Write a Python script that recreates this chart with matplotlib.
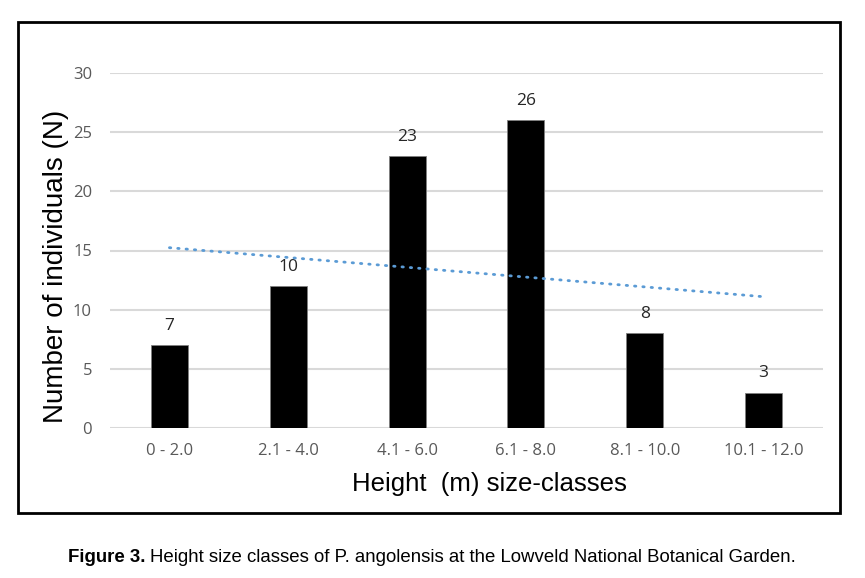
import matplotlib
matplotlib.use("Agg")
import matplotlib.pyplot as plt
import numpy as np
from matplotlib.patches import Rectangle

categories = ["0 - 2.0", "2.1 - 4.0", "4.1 - 6.0", "6.1 - 8.0", "8.1 - 10.0", "10.1 - 12.0"]
counts = [7, 12, 23, 26, 8, 3]
bar_labels = ["7", "10", "23", "26", "8", "3"]
yticks = [0, 5, 10, 15, 20, 25, 30]

W, H = 865, 578
fig = plt.figure(figsize=(W / 100, H / 100), dpi=100)
fig.patch.set_facecolor("white")

# outer frame
fig.patches.append(Rectangle((18 / W, 1 - 513 / H), (840 - 18) / W, (513 - 22) / H,
                             transform=fig.transFigure, fill=False, edgecolor="black",
                             linewidth=2.0, zorder=0))

ax = fig.add_axes([110 / W, 1 - 428 / H, (823 - 110) / W, (428 - 73) / H])
x = np.arange(len(categories))
ax.bar(x, counts, width=0.31, color="black", edgecolor="#7f7f7f", linewidth=0.6, zorder=3)

for xi, v, lab in zip(x, counts, bar_labels):
    ax.annotate(lab, (xi, v), xytext=(0, 8), textcoords="offset points",
                ha="center", va="bottom", fontsize=12.5, color="#262626",
                family=["Open Sans", "DejaVu Sans"], clip_on=False)

# linear trendline
coef = np.polyfit(x, counts, 1)
xt = np.array([x[0], x[-1]])
ax.plot(xt, np.polyval(coef, xt), color="#5b9bd5", linewidth=2.0,
        linestyle=(0, (0.5, 2.5)), dash_capstyle="round", zorder=4)

ax.set_xlim(-0.5, len(categories) - 0.5)
ax.set_ylim(0, 30)
ax.set_yticks(yticks)
ax.set_yticklabels([str(t) for t in yticks])
ax.set_xticks(x)
ax.set_xticklabels(categories)
ax.grid(axis="y", color="#d9d9d9", linewidth=1.5, zorder=0)
ax.set_axisbelow(True)
for s in ax.spines.values():
    s.set_visible(False)
ax.tick_params(axis="both", length=0, colors="#595959", labelsize=12)
ax.tick_params(axis="y", pad=13)
ax.tick_params(axis="x", pad=11)
for lbl in ax.get_yticklabels() + ax.get_xticklabels():
    lbl.set_family(["Open Sans", "DejaVu Sans"])

ax.set_ylabel("Number of individuals (N)", fontsize=20, family="Liberation Sans",
              color="black")
ax.yaxis.set_label_coords(-0.058, 0.455)
ax.set_xlabel("Height  (m) size-classes", fontsize=18.5, family="Liberation Sans",
              color="black")
ax.xaxis.set_label_coords(0.532, -0.125)

# caption
fig.canvas.draw()
r = fig.canvas.get_renderer()
t1 = fig.text(68 / W, 1 - 557 / H, "Figure 3.", fontsize=13.4, fontweight="bold",
              family="Liberation Sans", va="center", ha="left")
bb = t1.get_window_extent(renderer=r)
fig.text((bb.x1 + 4) / W, 1 - 557 / H,
         "Height size classes of P. angolensis at the Lowveld National Botanical Garden.",
         fontsize=13.4, family="Liberation Sans", va="center", ha="left")

fig.savefig("out.png", dpi=100)
